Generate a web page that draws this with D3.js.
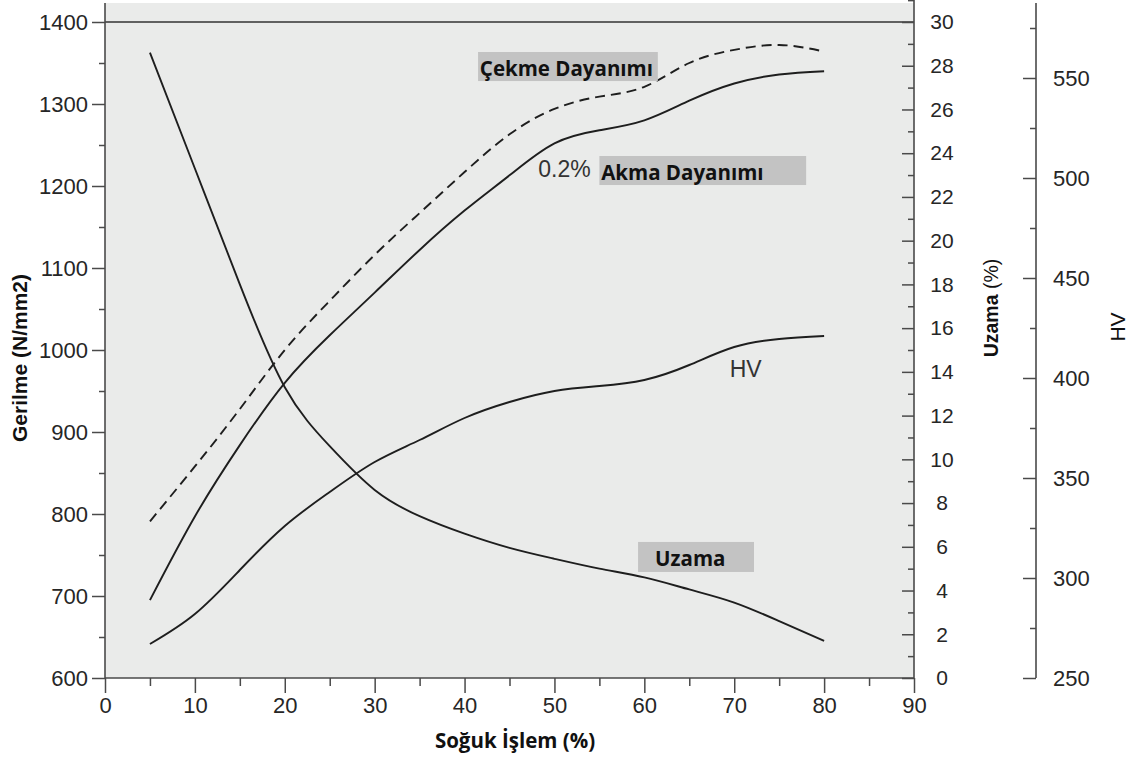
<!DOCTYPE html>
<html>
<head>
<meta charset="utf-8">
<script src="https://cdn.jsdelivr.net/npm/d3@7"></script>
<style>
  html, body { margin: 0; padding: 0; background: #ffffff; }
  svg { display: block; }
</style>
</head>
<body>
<svg id="chart" width="1141" height="761"></svg>
<script>
// Cold work (%) at which each property was measured
const coldWork = [5, 10, 15, 20, 25, 30, 35, 40, 45, 50, 55, 60, 65, 70, 75, 80];

// Tensile strength, N/mm2 (dashed)
const tensile = [791, 858, 928, 1000, 1060, 1116, 1167, 1217, 1263, 1294, 1309, 1321, 1350, 1366, 1372, 1364];
// 0.2% proof (yield) strength, N/mm2
const yieldStr = [695, 797, 884, 960, 1018, 1070, 1122, 1170, 1213, 1252, 1268, 1280, 1304, 1325, 1336, 1340];
// Elongation, %
const elongation = [28.6, 23.3, 18.0, 13.3, 10.6, 8.6, 7.4, 6.6, 5.95, 5.45, 5.0, 4.6, 4.05, 3.45, 2.6, 1.7];
// Vickers hardness
const hardness = [267, 282, 304, 326, 343, 358, 369, 380, 388, 393.5, 396, 399, 406.5, 415.5, 419.5, 421];

// Axis ticks
const xMajor = d3.range(0, 91, 10);
const xMinor = d3.range(5, 90, 10);
const stressMajor = d3.range(600, 1401, 100);
const stressMinor = d3.range(650, 1400, 100);
const elongMajor = d3.range(0, 31, 2);
const elongMinor = d3.range(1, 32, 2);
const hvMajor = d3.range(250, 551, 50);
const hvMinor = d3.range(275, 576, 50);

const svg = d3.select("#chart");

const plotLeft = 105, plotRight = 914, plotBottom = 678, plotTop = 22, panelTop = 3;
const hvAxisX = 1036;

const x = d3.scaleLinear().domain([0, 90]).range([plotLeft, plotRight]);
const yStress = d3.scaleLinear().domain([600, 1400]).range([plotBottom, plotTop]);
const yElong = d3.scaleLinear().domain([0, 30]).range([plotBottom, plotTop]);
const yHV = d3.scaleLinear().domain([250, 550]).range([plotBottom, plotBottom - 600]);

const tickFont = "'Liberation Sans', Arial, Helvetica, sans-serif";
const labelFont = "'Open Sans', 'Noto Sans', sans-serif";
const axisColor = "#4a4a4a";
const textColor = "#262626";

// Plot panel
svg.append("rect")
  .attr("x", plotLeft).attr("y", panelTop)
  .attr("width", plotRight - plotLeft).attr("height", plotBottom - panelTop)
  .attr("fill", "#eaebea");

// Top reference line at 1400
svg.append("line")
  .attr("x1", plotLeft).attr("x2", plotRight)
  .attr("y1", yStress(1400)).attr("y2", yStress(1400))
  .attr("stroke", "#333").attr("stroke-width", 1.6);

function styleAxis(g) {
  g.select(".domain").remove();
  g.selectAll(".tick line").attr("stroke", axisColor).attr("stroke-width", 1.5);
  g.selectAll(".tick text")
    .attr("fill", textColor)
    .style("font-family", tickFont);
}

// Left stress axis
svg.append("g").attr("transform", `translate(${plotLeft},0)`)
  .call(d3.axisLeft(yStress).tickValues(stressMinor).tickSize(6).tickFormat(""))
  .call(styleAxis);
svg.append("g").attr("transform", `translate(${plotLeft},0)`)
  .call(d3.axisLeft(yStress).tickValues(stressMajor).tickSize(13).tickPadding(4).tickFormat(d3.format("d")))
  .call(styleAxis)
  .call(g => g.selectAll(".tick text").style("font-size", "22px"));

// Bottom axis
svg.append("g").attr("transform", `translate(0,${plotBottom})`)
  .call(d3.axisBottom(x).tickValues(xMinor).tickSize(8).tickFormat(""))
  .call(styleAxis);
svg.append("g").attr("transform", `translate(0,${plotBottom})`)
  .call(d3.axisBottom(x).tickValues(xMajor).tickSize(15).tickPadding(4).tickFormat(d3.format("d")))
  .call(styleAxis)
  .call(g => g.selectAll(".tick text").style("font-size", "22px"));

// Elongation axis (inner right)
svg.append("g").attr("transform", `translate(${plotRight},0)`)
  .call(d3.axisLeft(yElong).tickValues(elongMinor).tickSize(6).tickFormat(""))
  .call(styleAxis);
const elongAxis = svg.append("g").attr("transform", `translate(${plotRight},0)`)
  .call(d3.axisLeft(yElong).tickValues(elongMajor).tickSize(12).tickFormat(d3.format("d")))
  .call(styleAxis);
elongAxis.selectAll(".tick text")
  .attr("x", 28).attr("text-anchor", "middle").style("font-size", "21px");

// Hardness axis (outer right)
svg.append("g").attr("transform", `translate(${hvAxisX},0)`)
  .call(d3.axisLeft(yHV).tickValues(hvMinor).tickSize(6).tickFormat(""))
  .call(styleAxis);
const hvAxis = svg.append("g").attr("transform", `translate(${hvAxisX},0)`)
  .call(d3.axisLeft(yHV).tickValues(hvMajor).tickSize(13).tickFormat(d3.format("d")))
  .call(styleAxis);
hvAxis.selectAll(".tick text")
  .attr("x", 17).attr("text-anchor", "start").style("font-size", "22px");

// Axis lines
const axisLines = [
  [plotLeft, panelTop, plotLeft, plotBottom],
  [plotLeft, plotBottom, plotRight, plotBottom],
  [plotRight, 0, plotRight, plotBottom],
  [hvAxisX, panelTop, hvAxisX, plotBottom]
];
svg.selectAll("line.axis-line").data(axisLines).enter().append("line")
  .attr("class", "axis-line")
  .attr("x1", d => d[0]).attr("y1", d => d[1])
  .attr("x2", d => d[2]).attr("y2", d => d[3])
  .attr("stroke", axisColor).attr("stroke-width", 1.6);

// Curves: a natural cubic spline keeps the hand-drawn look smooth
const curve = d3.curveNatural;
function drawSeries(values, yScale, dashed) {
  const line = d3.line().curve(curve)
    .x((d, i) => x(coldWork[i]))
    .y(d => yScale(d));
  svg.append("path")
    .datum(values)
    .attr("d", line)
    .attr("fill", "none")
    .attr("stroke", "#1e1e1e")
    .attr("stroke-width", 1.9)
    .attr("stroke-dasharray", dashed ? "10,6" : null);
}
drawSeries(tensile, yStress, true);
drawSeries(yieldStr, yStress, false);
drawSeries(elongation, yElong, false);
drawSeries(hardness, yHV, false);

// Curve annotations (positions in cold-work % / stress units)
const boxes = [
  { x0: 41.5, x1: 61.5, y0: 1363.4, y1: 1328.0 },
  { x0: 55.0, x1: 78.0, y0: 1236.6, y1: 1201.2 },
  { x0: 59.3, x1: 72.2, y0: 765.9, y1: 729.3 }
];
svg.selectAll("rect.label-box").data(boxes).enter().append("rect")
  .attr("class", "label-box")
  .attr("x", d => x(d.x0)).attr("y", d => yStress(d.y0))
  .attr("width", d => x(d.x1) - x(d.x0))
  .attr("height", d => yStress(d.y1) - yStress(d.y0))
  .attr("fill", "#c3c3c3");

const boldLabels = [
  { text: "Çekme Dayanımı", xv: 41.7, yv: 1334 },
  { text: "Akma Dayanımı", xv: 55.2, yv: 1207.3 },
  { text: "Uzama", xv: 61.2, yv: 736.6 }
];
svg.selectAll("text.bold-label").data(boldLabels).enter().append("text")
  .attr("class", "bold-label")
  .attr("x", d => x(d.xv)).attr("y", d => yStress(d.yv))
  .style("font-family", labelFont).style("font-weight", "bold").style("font-size", "20.5px")
  .attr("fill", "#111")
  .text(d => d.text);

const plainLabels = [
  { text: "0.2%", xv: 48.2, yv: 1211 },
  { text: "HV", xv: 69.5, yv: 967 }
];
svg.selectAll("text.plain-label").data(plainLabels).enter().append("text")
  .attr("class", "plain-label")
  .attr("x", d => x(d.xv)).attr("y", d => yStress(d.yv))
  .style("font-family", tickFont).style("font-size", "23px")
  .attr("fill", "#333")
  .text(d => d.text);

// Axis titles
svg.append("text")
  .attr("transform", "translate(27,358) rotate(-90)")
  .attr("text-anchor", "middle")
  .style("font-family", tickFont).style("font-weight", "bold").style("font-size", "21px")
  .attr("fill", "#111")
  .text("Gerilme (N/mm2)");

svg.append("text")
  .attr("x", 515).attr("y", 748)
  .attr("text-anchor", "middle")
  .style("font-family", labelFont).style("font-weight", "bold").style("font-size", "20.5px")
  .attr("fill", "#111")
  .text("Soğuk İşlem (%)");

const uz = svg.append("text")
  .attr("transform", "translate(998,308) rotate(-90)")
  .attr("text-anchor", "middle")
  .style("font-family", tickFont).style("font-size", "19.5px")
  .attr("fill", "#111");
uz.append("tspan").style("font-weight", "bold").text("Uzama");
uz.append("tspan").text(" (%)");

svg.append("text")
  .attr("transform", "translate(1125,327) rotate(-90)")
  .attr("text-anchor", "middle")
  .style("font-family", tickFont).style("font-size", "21px")
  .attr("fill", "#111")
  .text("HV");
</script>
</body>
</html>
